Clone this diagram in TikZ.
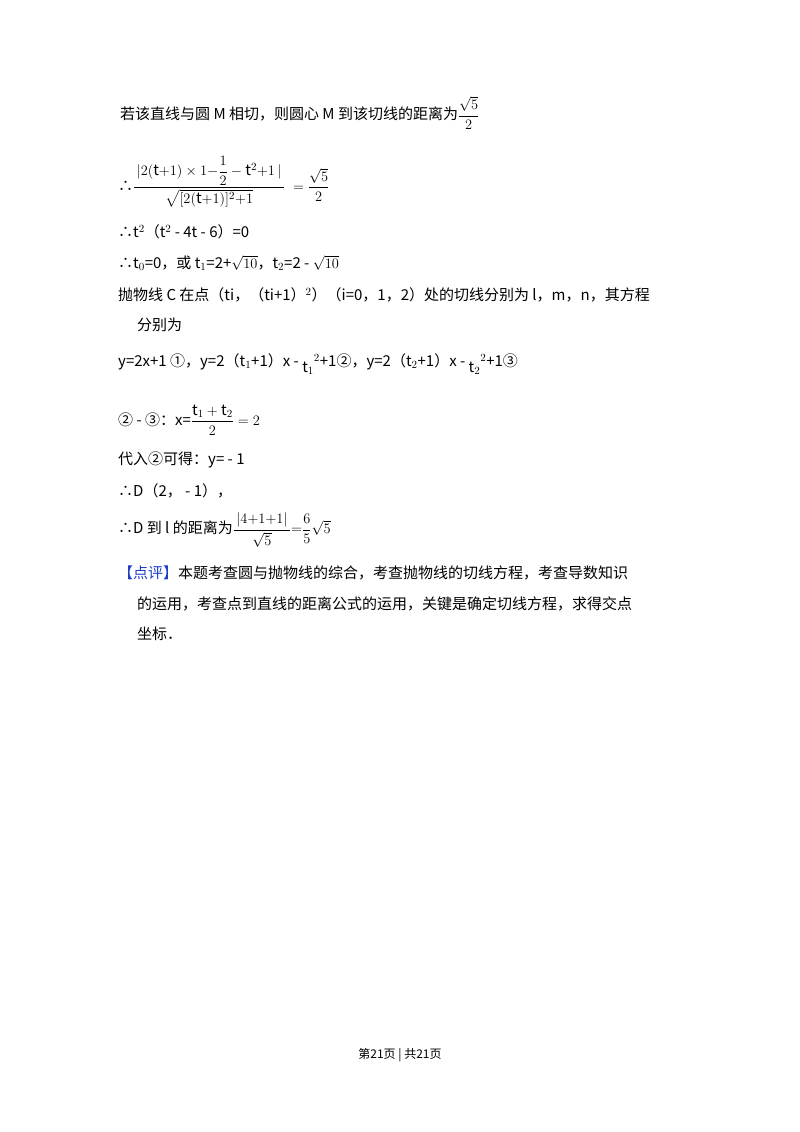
\documentclass[tikz,border=0pt]{standalone}
\usepackage{fontspec}
\usepackage{amsmath}
\setmainfont{Noto Sans CJK SC}
\definecolor{pj}{RGB}{30,60,200}
\begin{document}
\begin{tikzpicture}[x=1pt,y=-1pt,
  ln/.style={anchor=west,inner sep=0pt,font=\fontsize{15}{18}\selectfont}]
\useasboundingbox (0,0) rectangle (800,1132);
\node[ln] (l1) at (120,113) {若该直线与圆 M 相切，则圆心 M 到该切线的距离为$\dfrac{\sqrt{5}}{2}$};
\node[ln] (l2) at (118,182) {∴$\dfrac{\,|2(\mathrm{t}{+}1)\times 1{-}\dfrac{1}{2}-\mathrm{t}^{2}{+}1\,|\,}{\sqrt{[2(\mathrm{t}{+}1)]^{2}{+}1}}\;=\dfrac{\sqrt{5}}{2}$};
\node[ln] (l3) at (118,232) {∴t$^2$（t$^2$ - 4t - 6）=0};
\node[ln] (l4) at (118,263) {∴t$_0$=0，或 t$_1$=2+$\sqrt{10}$，t$_2$=2 - $\sqrt{10}$};
\node[ln] (l5) at (118,295) {抛物线 C 在点（ti，（ti+1）$^2$）（i=0，1，2）处的切线分别为 l，m，n，其方程};
\node[ln] (l6) at (137,325) {分别为};
\node[ln] (l7) at (118,364) {y=2x+1 ①，y=2（t$_1$+1）x - \raisebox{-6pt}{$\mathrm{t}_1$}$^{2}$+1②，y=2（t$_2$+1）x - \raisebox{-6pt}{$\mathrm{t}_2$}$^{2}$+1③};
\node[ln] (l8) at (118,420) {② - ③：x=$\dfrac{\mathrm{t}_1+\mathrm{t}_2}{2}=2$};
\node[ln] (l9) at (118,460) {代入②可得：y= - 1};
\node[ln] (l10) at (118,491) {∴D（2， - 1），};
\node[ln] (l11) at (118,530) {∴D 到 l 的距离为$\dfrac{\,|4{+}1{+}1|\,}{\sqrt{5}}{=}\dfrac{6}{5}\sqrt{5}$};
\node[ln] (l12) at (118,573) {\textcolor{pj}{【点评】}本题考查圆与抛物线的综合，考查抛物线的切线方程，考查导数知识};
\node[ln] (l13) at (137,604) {的运用，考查点到直线的距离公式的运用，关键是确定切线方程，求得交点};
\node[ln] (l14) at (137,634) {坐标．};
\node[inner sep=0pt,font=\fontsize{12}{14}\selectfont] (ft) at (400,1055) {第21页 | 共21页};
\end{tikzpicture}
\end{document}
